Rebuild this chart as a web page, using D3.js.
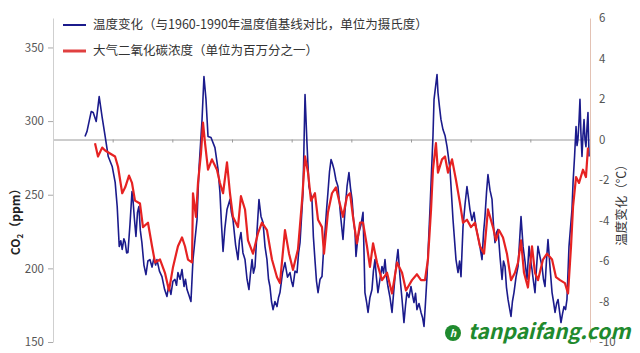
<!DOCTYPE html>
<html>
<head>
<meta charset="utf-8">
<script src="https://cdn.jsdelivr.net/npm/d3@7"></script>
<style>
body { margin: 0; background: #fff; }
text { font-family: "Noto Sans CJK SC", "Noto Sans", sans-serif; }
</style>
</head>
<body>
<svg id="chart" width="640" height="353"></svg>
<script>
// ages in thousand years before present
var ageTicks = [0, 50, 100, 150, 200, 250, 300, 350, 400, 450]
var co2Ticks = [150, 200, 250, 300, 350]
var tempTicks = [6, 4, 2, 0, -2, -4, -6, -8, -10]

var legendLabels = ['温度变化（与1960-1990年温度值基线对比，单位为摄氏度）', '大气二氧化碳浓度（单位为百万分之一）']

var tempAge = [423.2, 421.5, 418.0, 416.3, 413.8, 411.3, 408.8, 406.3, 403.7, 400.4, 397.9, 396.2, 394.5, 393.2, 392.0,
    390.6, 389.5, 388.3, 387.2, 385.5, 383.8, 383.0, 381.8, 380.5, 379.2, 378.0, 376.8, 375.5, 373.8, 372.1, 370.5,
    368.8, 367.0, 365.4, 364.0, 362.9, 360.8, 358.7, 356.5, 354.5, 353.0, 351.2, 349.5, 347.8, 346.5, 345.3, 343.5,
    341.9, 340.2, 339.0, 337.7, 336.0, 334.4, 332.7, 329.3, 327.7, 325.1, 323.5, 321.8, 320.1, 317.6, 314.3, 311.7,
    310.1, 308.8, 307.5, 306.0, 304.2, 301.7, 300.5, 299.2, 297.0, 295.0, 293.8, 292.5, 290.8, 289.1, 287.4, 285.8,
    284.5, 283.2, 282.0, 280.7, 279.0, 277.4, 275.7, 274.0, 272.3, 270.7, 269.4, 268.2, 266.9, 265.6, 264.0, 262.3,
    261.0, 259.8, 257.7, 255.6, 253.5, 251.4, 250.1, 248.9, 247.2, 245.5, 244.2, 243.0, 240.5, 238.8, 237.2, 235.5,
    233.0, 231.8, 230.5, 229.2, 227.9, 226.2, 224.6, 223.3, 222.1, 220.8, 219.6, 218.3, 217.0, 215.8, 214.5, 212.9,
    211.2, 210.0, 208.7, 207.0, 205.3, 203.6, 202.0, 200.7, 199.4, 198.1, 196.9, 196.1, 194.8, 193.6, 191.9, 190.2,
    189.4, 188.6, 187.3, 186.0, 184.4, 182.7, 181.5, 180.2, 179.0, 177.7, 176.0, 174.3, 173.0, 171.8, 170.5, 169.3,
    167.6, 165.9, 164.6, 163.4, 162.1, 160.9, 159.2, 157.5, 155.9, 154.6, 153.4, 151.7, 150.0, 148.7, 147.5, 146.2,
    145.0, 143.3, 141.6, 140.3, 139.1, 137.8, 136.6, 134.1, 131.6, 130.7, 128.2, 127.4, 126.1, 124.9, 123.2, 121.5,
    119.8, 117.3, 114.8, 112.3, 110.6, 109.3, 108.1, 106.4, 104.7, 103.1, 101.8, 100.6, 98.9, 97.2, 95.6, 93.9,
    92.2, 90.5, 89.2, 88.0, 86.7, 85.5, 83.8, 82.1, 80.9, 79.6, 78.4, 77.1, 75.4, 73.7, 72.5, 71.2, 70.0, 68.7,
    67.5, 66.2, 65.0, 63.7, 62.0, 60.3, 59.0, 57.8, 56.1, 54.5, 52.8, 51.1, 49.9, 48.6, 47.4, 46.1, 44.9, 43.6,
    41.9, 40.2, 39.0, 37.7, 36.5, 35.2, 33.5, 31.8, 30.6, 29.3, 28.0, 26.8, 25.5, 24.3, 23.0, 21.8, 20.5, 19.3,
    17.6, 15.1, 14.2, 12.9, 11.7, 10.9, 10.1, 9.2, 8.4, 7.6, 6.7, 5.9, 5.0, 4.2, 3.4, 2.5, 1.7, 0.8]
var tempVal = [0.15, 0.4, 1.38, 1.33, 0.89, 2.12, 1.09, 0.15, -0.84, -1.33, -2.12, -3.31, -5.28, -5.0, -5.43,
    -4.9, -5.09, -5.6, -5.58, -4.2, -2.57, -2.96, -3.9, -4.79, -3.6, -3.31, -4.5, -5.09, -6.2, -6.67, -6.0,
    -5.93, -6.3, -5.83, -6.2, -5.93, -6.5, -6.77, -7.4, -7.75, -7.2, -7.65, -7.0, -6.91, -7.2, -6.57, -6.9,
    -6.42, -7.26, -6.9, -7.41, -7.7, -8.0, -5.93, -3.95, -1.48, 0.99, 3.11, 1.98, 0.15, 0.1, -0.4, -1.48,
    -2.62, -4.2, -5.53, -4.4, -3.46, -2.96, -3.6, -3.95, -5.2, -5.93, -5.0, -4.59, -5.6, -5.93, -6.9, -7.41,
    -6.6, -5.93, -6.6, -6.27, -4.5, -2.96, -3.8, -4.1, -5.3, -5.93, -6.9, -7.26, -8.0, -8.4, -8.0, -8.25,
    -7.8, -7.56, -6.6, -6.08, -6.8, -6.57, -7.0, -7.26, -6.5, -6.57, -5.6, -5.09, -2.62, 2.22, -0.15, -2.32,
    -2.96, -4.8, -5.93, -7.0, -7.56, -6.9, -6.77, -5.5, -4.59, -3.5, -2.62, -1.6, -0.99, -1.2, -1.48, -2.0,
    -2.32, -3.1, -3.95, -4.94, -3.5, -2.32, -1.63, -2.4, -2.96, -4.0, -4.59, -5.78, -5.0, -4.59, -4.2, -3.6,
    -5.5, -7.56, -8.0, -8.54, -7.8, -7.41, -6.5, -5.93, -6.8, -7.56, -6.9, -6.27, -6.6, -5.93, -6.8, -7.26,
    -7.8, -8.54, -7.6, -6.77, -6.0, -5.43, -6.8, -7.9, -9.04, -8.2, -7.56, -7.8, -7.26, -7.7, -8.05, -7.6,
    -8.4, -8.1, -8.54, -8.8, -9.23, -8.0, -6.77, -3.46, 0.15, 1.98, 3.21, 2.32, 1.6, 0.99, 0.49, 0.2,
    -0.35, -1.48, -3.95, -5.93, -6.57, -6.0, -6.77, -4.3, -3.2, -2.32, -2.9, -3.46, -4.0, -3.6, -4.3, -4.79,
    -5.3, -5.93, -4.6, -3.8, -2.6, -1.73, -2.5, -2.96, -4.2, -5.09, -4.6, -4.44, -5.8, -6.91, -6.0, -6.27, -7.3, -7.9,
    -8.3, -8.74, -8.0, -7.56, -6.8, -6.27, -5.0, -3.8, -5.28, -6.0, -6.91, -5.28, -5.9, -6.42, -7.0, -7.56, -6.4, -5.28,
    -5.8, -6.27, -6.9, -7.26, -6.0, -4.94, -6.3, -7.56, -8.0, -8.54, -8.1, -7.9, -8.5, -9.04, -8.6, -8.25, -8.4, -7.9,
    -5.28, -3.46, -2.12, -0.8, 0.64, -0.3, 0.0, 0.9, 1.98, 0.3, -0.84, 0.2, 0.99, 0.0, -0.35, 0.6, 1.33, -0.84]

var co2Age = [414.8, 412.3, 408.8, 406.3, 402.2, 398.0, 395.5, 392.0, 389.5, 386.3, 383.8, 381.3, 377.1, 374.6, 370.4,
    367.0, 364.5, 360.3, 356.2, 352.8, 349.4, 345.3, 341.9, 339.4, 336.9, 333.5, 332.7, 330.2, 328.5, 326.0, 324.3, 322.6,
    320.1, 316.8, 312.6, 310.1, 307.5, 304.2, 301.7, 299.2, 295.0, 292.5, 289.1, 286.6, 282.4, 278.2, 274.9, 270.7, 266.5,
    262.3, 259.8, 255.6, 252.2, 248.9, 244.7, 241.3, 238.8, 236.3, 233.8, 230.5, 227.9, 224.6, 222.9, 219.6, 216.2, 212.9,
    210.3, 207.0, 203.6, 201.1, 198.6, 195.3, 192.7, 190.2, 186.9, 184.4, 181.8, 178.5, 174.3, 170.1, 165.9, 161.7, 157.5,
    154.2, 149.2, 145.0, 141.6, 138.3, 135.8, 133.2, 131.6, 129.1, 127.4, 124.0, 121.5, 119.0, 115.6, 112.3, 108.9, 106.4,
    103.1, 99.7, 96.4, 92.2, 88.8, 85.5, 81.3, 78.8, 76.3, 72.9, 69.6, 66.2, 62.9, 60.3, 57.8, 55.3, 52.0, 48.6, 46.1,
    43.6, 39.4, 36.0, 31.8, 28.5, 25.1, 21.0, 18.4, 15.9, 14.2, 11.7, 9.2, 5.9, 3.4, 1.7]
var co2Val = [285, 276, 282, 280, 278, 276, 269, 251, 255, 263, 258, 246, 244, 228, 231,
    215, 204, 206, 197, 185, 201, 215, 221, 215, 206, 204, 251, 235, 258, 278, 299, 285,
    267, 274, 267, 258, 251, 272, 251, 235, 228, 249, 240, 219, 210, 224, 231, 226, 206,
    194, 190, 226, 210, 199, 213, 246, 276, 265, 246, 251, 233, 228, 210, 238, 251, 255,
    246, 235, 249, 251, 235, 217, 231, 231, 215, 201, 217, 204, 192, 197, 183, 204, 197,
    185, 192, 196, 192, 192, 206, 240, 267, 285, 265, 274, 276, 265, 274, 260, 244, 231,
    233, 228, 231, 215, 210, 240, 228, 219, 226, 221, 210, 192, 197, 204, 219, 197, 187, 215, 197,
    192, 206, 210, 206, 194, 192, 190, 183, 215, 242, 262, 258, 267, 262, 282]

var svg = d3.select('#chart')

var x = d3.scaleLinear().domain([450, 0]).range([53, 590])
var yC = d3.scaleLinear().domain([150, 370]).range([342, 18])
var yT = d3.scaleLinear().domain([-10, 6]).range([342, 18])

// zero line with age ticks
var zeroAxis = svg.append('g')
    .attr('transform', 'translate(0,' + yT(0) + ')')
    .call(d3.axisBottom(x).tickValues(ageTicks).tickSize(3).tickSizeOuter(0).tickFormat(''))
zeroAxis.select('.domain').attr('stroke', '#9a9a9a')
zeroAxis.selectAll('.tick line').attr('stroke', '#9a9a9a')

var left = svg.append('g')
    .attr('transform', 'translate(53,0)')
    .call(d3.axisLeft(yC).tickValues(co2Ticks).tickSize(5).tickSizeOuter(0).tickFormat(function(d) { return String(d) }))
left.select('.domain').attr('stroke', '#cfcfcf')
left.selectAll('.tick line').attr('stroke', '#aaa')
left.selectAll('.tick text').attr('fill', '#555').attr('font-size', 11.5).attr('x', -9)

var right = svg.append('g')
    .attr('transform', 'translate(590,0)')
    .call(d3.axisRight(yT).tickValues(tempTicks).tickSize(0).tickSizeOuter(0).tickFormat(function(d) { return String(d) }))
right.select('.domain').attr('stroke', '#e3c2b4')
right.selectAll('.tick text').attr('fill', '#555').attr('font-size', 11.5).attr('x', 9)

var co2Line = d3.line()
    .x(function(d, i) { return x(co2Age[i]) })
    .y(function(d) { return yC(d) })
var tempLine = d3.line()
    .x(function(d, i) { return x(tempAge[i]) })
    .y(function(d) { return yT(d) })

svg.append('path')
    .attr('d', tempLine(tempVal))
    .attr('fill', 'none')
    .attr('stroke', '#1b1b8c')
    .attr('stroke-width', 1.6)
    .attr('stroke-linejoin', 'round')

svg.append('path')
    .attr('d', co2Line(co2Val))
    .attr('fill', 'none')
    .attr('stroke', '#e62222')
    .attr('stroke-width', 2.2)
    .attr('stroke-linejoin', 'round')

// legend
var legendColors = ['#1b1b8c', '#e04040']
var legendWidths = [2, 3]
var legendY = [25, 51]
for (var i = 0; i < legendLabels.length; i++) {
    svg.append('line')
        .attr('x1', 63).attr('x2', 86)
        .attr('y1', legendY[i]).attr('y2', legendY[i])
        .attr('stroke', legendColors[i])
        .attr('stroke-width', legendWidths[i])
    svg.append('text')
        .attr('x', 93).attr('y', legendY[i])
        .attr('dy', '0.35em')
        .attr('font-size', 12.5)
        .attr('fill', '#333')
        .text(legendLabels[i])
}

// axis titles
var ct = svg.append('text')
    .attr('transform', 'translate(20,219) rotate(-90)')
    .attr('text-anchor', 'middle')
    .attr('font-size', 12)
    .attr('font-weight', 'bold')
    .attr('fill', '#222')
ct.append('tspan').text('CO')
ct.append('tspan').attr('font-size', 8).attr('dy', 3).text('2')
ct.append('tspan').attr('dy', -3).text('（ppm）')

svg.append('text')
    .attr('transform', 'translate(626,202) rotate(-90)')
    .attr('text-anchor', 'middle')
    .attr('font-size', 12.5)
    .attr('fill', '#333')
    .text('温度变化（℃）')

// watermark
svg.append('circle').attr('cx', 453).attr('cy', 333).attr('r', 8).attr('fill', '#1f8a2e')
svg.append('text').attr('x', 453).attr('y', 333).attr('dy', '0.35em')
    .attr('text-anchor', 'middle').attr('font-size', 10).attr('font-style', 'italic')
    .attr('font-weight', 'bold').attr('fill', '#fff').text('h')
svg.append('text')
    .attr('x', 468).attr('y', 339)
    .attr('font-family', 'Roboto, sans-serif')
    .attr('font-size', 21)
    .attr('font-weight', 'bold')
    .attr('font-style', 'italic')
    .attr('fill', '#1f8a2e')
    .text('tanpaifang.com')
</script>
</body>
</html>
